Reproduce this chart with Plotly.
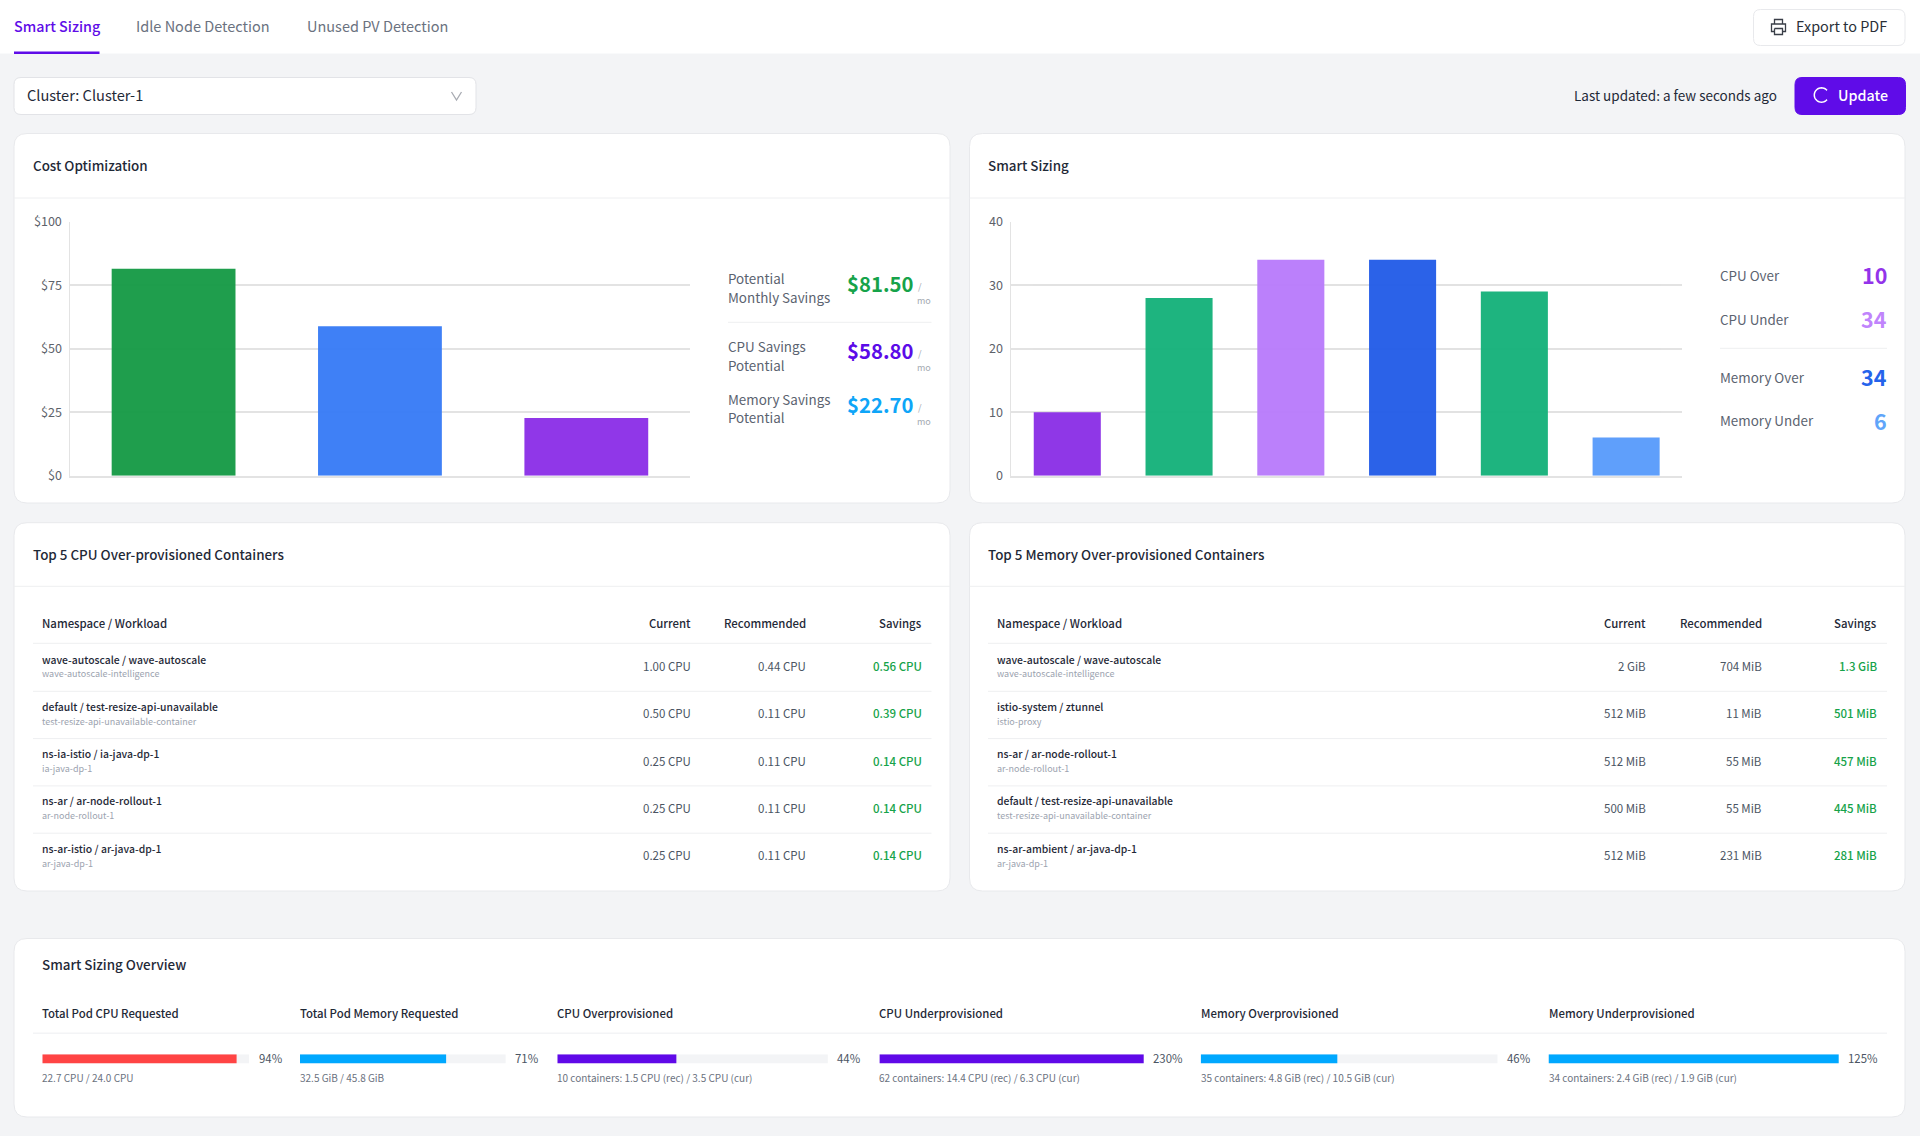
import numpy as np
import plotly.graph_objects as go

W, H = 1920, 1136
FONT = "Noto Sans CJK KR"

# chart data
cost_categories = ["Potential Monthly Savings", "CPU Savings Potential", "Memory Savings Potential"]
cost_values = [81.5, 58.8, 22.7]
cost_colors = ["#189b47", "#397cf6", "#8c31e7"]
cost_ticks = [0, 25, 50, 75, 100]
cost_tick_labels = ["$0", "$25", "$50", "$75", "$100"]

sizing_categories = ["CPU Over", "CPU Optimal", "CPU Under", "Memory Over", "Memory Optimal", "Memory Under"]
sizing_values = [10, 28, 34, 34, 29, 6]
sizing_colors = ["#8c31e7", "#17b27b", "#b97cfb", "#255de8", "#17b27b", "#5a9cfb"]
sizing_ticks = [0, 10, 20, 30, 40]
sizing_tick_labels = ["0", "10", "20", "30", "40"]

# side stats
cost_stat_lines = [["Potential", "Monthly Savings"], ["CPU Savings", "Potential"], ["Memory Savings", "Potential"]]
cost_stat_values = ["$81.50", "$58.80", "$22.70"]
cost_stat_colors = ["#16a34a", "#5b0be8", "#0ea5f8"]

sizing_stat_labels = ["CPU Over", "CPU Under", "Memory Over", "Memory Under"]
sizing_stat_values = [10, 34, 34, 6]
sizing_stat_colors = ["#9333ea", "#c084fc", "#2563eb", "#60a5fa"]

# tables
table_headers = ["Namespace / Workload", "Current", "Recommended", "Savings"]

cpu_workloads = ["wave-autoscale / wave-autoscale", "default / test-resize-api-unavailable",
                 "ns-ia-istio / ia-java-dp-1", "ns-ar / ar-node-rollout-1", "ns-ar-istio / ar-java-dp-1"]
cpu_containers = ["wave-autoscale-intelligence", "test-resize-api-unavailable-container",
                  "ia-java-dp-1", "ar-node-rollout-1", "ar-java-dp-1"]
cpu_current = ["1.00 CPU", "0.50 CPU", "0.25 CPU", "0.25 CPU", "0.25 CPU"]
cpu_recommended = ["0.44 CPU", "0.11 CPU", "0.11 CPU", "0.11 CPU", "0.11 CPU"]
cpu_savings = ["0.56 CPU", "0.39 CPU", "0.14 CPU", "0.14 CPU", "0.14 CPU"]

mem_workloads = ["wave-autoscale / wave-autoscale", "istio-system / ztunnel", "ns-ar / ar-node-rollout-1",
                 "default / test-resize-api-unavailable", "ns-ar-ambient / ar-java-dp-1"]
mem_containers = ["wave-autoscale-intelligence", "istio-proxy", "ar-node-rollout-1",
                  "test-resize-api-unavailable-container", "ar-java-dp-1"]
mem_current = ["2 GiB", "512 MiB", "512 MiB", "500 MiB", "512 MiB"]
mem_recommended = ["704 MiB", "11 MiB", "55 MiB", "55 MiB", "231 MiB"]
mem_savings = ["1.3 GiB", "501 MiB", "457 MiB", "445 MiB", "281 MiB"]

# overview bars
overview_titles = ["Total Pod CPU Requested", "Total Pod Memory Requested", "CPU Overprovisioned",
                   "CPU Underprovisioned", "Memory Overprovisioned", "Memory Underprovisioned"]
overview_pct = [94, 71, 44, 230, 46, 125]
overview_details = ["22.7 CPU / 24.0 CPU", "32.5 GiB / 45.8 GiB", "10 containers: 1.5 CPU (rec) / 3.5 CPU (cur)",
                    "62 containers: 14.4 CPU (rec) / 6.3 CPU (cur)", "35 containers: 4.8 GiB (rec) / 10.5 GiB (cur)",
                    "34 containers: 2.4 GiB (rec) / 1.9 GiB (cur)"]
overview_colors = ["#ff4444", "#00a8ff", "#6009e8", "#6009e8", "#00a8ff", "#00a8ff"]


def px(x):
    return x / W


def py(y):
    return 1 - y / H


annotations = []
shapes = []


def text(x, y, s, size=13, color="#1f2937", anchor="left", weight=400):
    # noto sits a little low in its line box
    annotations.append(dict(
        x=px(x), y=py(y - 1.2), xref="paper", yref="paper", text=s, showarrow=False,
        xanchor=anchor, yanchor="middle", borderpad=0, borderwidth=0,
        font=dict(family=FONT, size=size, color=color, weight=weight),
    ))


def hline(x0, x1, y, color="#eeeff1", width=1):
    shapes.append(dict(type="line", xref="paper", yref="paper", x0=px(x0), x1=px(x1), y0=py(y), y1=py(y),
                       line=dict(color=color, width=width), layer="below"))


def round_rect(x0, y0, x1, y1, r, fill, line="#e8e9ec", width=1):
    p = (f"M {px(x0 + r)} {py(y0)} L {px(x1 - r)} {py(y0)} Q {px(x1)} {py(y0)} {px(x1)} {py(y0 + r)} "
         f"L {px(x1)} {py(y1 - r)} Q {px(x1)} {py(y1)} {px(x1 - r)} {py(y1)} "
         f"L {px(x0 + r)} {py(y1)} Q {px(x0)} {py(y1)} {px(x0)} {py(y1 - r)} "
         f"L {px(x0)} {py(y0 + r)} Q {px(x0)} {py(y0)} {px(x0 + r)} {py(y0)} Z")
    shapes.append(dict(type="path", path=p, xref="paper", yref="paper", fillcolor=fill,
                       line=dict(color=line, width=width), layer="below"))


def polyline(points, color, width=1.3, above=True):
    p = "M " + " L ".join(f"{px(a)} {py(b)}" for a, b in points)
    shapes.append(dict(type="path", path=p, xref="paper", yref="paper",
                       line=dict(color=color, width=width), layer="above" if above else "below"))


# page chrome
shapes.append(dict(type="rect", xref="paper", yref="paper", x0=0, x1=1, y0=py(53.5), y1=1,
                   fillcolor="white", line=dict(width=0), layer="below"))
shapes.append(dict(type="rect", xref="paper", yref="paper", x0=px(14), x1=px(99.5), y0=py(54), y1=py(51.5),
                   fillcolor="#5f0ce8", line=dict(width=0), layer="below"))
text(14, 27, "Smart Sizing", 14.3, "#5f0ce8", weight=500)
text(136, 27, "Idle Node Detection", 14.5, "#6b7280")
text(307, 27, "Unused PV Detection", 14.5, "#6b7280")

round_rect(1753.5, 9.5, 1905, 45.5, 7, "white")
text(1795.5, 27, "Export to PDF", 14.4, "#2a2f38")
polyline([(1774.5, 24), (1774.5, 19.5), (1782.5, 19.5), (1782.5, 24)], "#3a3f48")
polyline([(1774.5, 31.5), (1771.5, 31.5), (1771.5, 24), (1785.5, 24), (1785.5, 31.5), (1782.5, 31.5)], "#3a3f48")
polyline([(1774.5, 28.5), (1782.5, 28.5), (1782.5, 34.5), (1774.5, 34.5), (1774.5, 28.5)], "#3a3f48")

round_rect(14, 77.5, 476, 114.5, 7, "white", "#e2e3e7")
text(27, 96, "Cluster: Cluster-1", 14.6, "#1f2937")
polyline([(451.5, 92), (456.5, 100), (461.5, 92)], "#a8abb2")

text(1776.5, 96, "Last updated: a few seconds ago", 13.5, "#1f2937", "right")
round_rect(1795, 77.5, 1905.5, 114.5, 7, "#5f0ce8", "#5f0ce8")
spin = np.radians(np.arange(40, 330, 10))
polyline([(1821.5 + 7.2 * np.cos(a), 95 - 7.2 * np.sin(a)) for a in spin], "white", 1.5)
text(1837.5, 96, "Update", 14.3, "white", weight=500)

# cards
for x0, x1 in [(14, 950), (969.5, 1905)]:
    round_rect(x0, 133.5, x1, 503, 13, "white")
    hline(x0, x1, 198)
    round_rect(x0, 522.7, x1, 891, 13, "white")
    hline(x0, x1, 586.3)
round_rect(14, 938.5, 1905, 1117, 13, "white")

text(33, 166, "Cost Optimization", 13.4, "#1f2937", weight=500)
text(988, 166, "Smart Sizing", 13.4, "#1f2937", weight=500)
text(33, 555, "Top 5 CPU Over-provisioned Containers", 13.4, "#1f2937", weight=500)
text(988, 555, "Top 5 Memory Over-provisioned Containers", 13.4, "#1f2937", weight=500)
text(42, 965, "Smart Sizing Overview", 13.4, "#1f2937", weight=500)

# cost side stats
label_ys = [(279, 298), (346.7, 365.7), (399.7, 418.7)]
value_ys = [284, 351, 404.7]
for lines, (y0, y1), val, vy, col in zip(cost_stat_lines, label_ys, cost_stat_values, value_ys, cost_stat_colors):
    text(728, y0, lines[0], 13.4, "#5b6370")
    text(728, y1, lines[1], 13.4, "#5b6370")
    text(847, vy, val, 20.3, col, weight=700)
    text(918, vy + 4, "/", 9, "#a4a9b2")
    text(917, vy + 18, "mo", 9, "#a4a9b2")
hline(728, 931.5, 322.3)

# smart sizing side stats
for lab, val, col, y in zip(sizing_stat_labels, sizing_stat_values, sizing_stat_colors, [276, 320, 378, 421.3]):
    text(1720, y, lab, 13.4, "#5b6370")
    text(1886.5, y, str(val), 21.5, col, "right", weight=700)
hline(1720, 1887, 348.3)


# tables
def draw_table(x_name, x_cur, x_rec, x_sav, x0, x1, workloads, containers, current, recommended, savings):
    text(x_name, 623.7, table_headers[0], 11.4, "#1f2937", weight=500)
    text(x_cur, 623.7, table_headers[1], 11.4, "#1f2937", "right", weight=500)
    text(x_rec, 623.7, table_headers[2], 11.4, "#1f2937", "right", weight=500)
    text(x_sav, 623.7, table_headers[3], 11.4, "#1f2937", "right", weight=500)
    hline(x0, x1, 643.3)
    for i in range(len(workloads)):
        dy = 47.3 * i
        text(x_name, 660.3 + dy, workloads[i], 10.4, "#1f2937", weight=500)
        text(x_name, 675 + dy, containers[i], 9, "#9ca3af")
        text(x_cur, 667.3 + dy, current[i], 11.5, "#4b5563", "right")
        text(x_rec, 667.3 + dy, recommended[i], 11.5, "#4b5563", "right")
        text(x_sav, 667.3 + dy, savings[i], 11.5, "#16a34a", "right", weight=500)
        if i < len(workloads) - 1:
            hline(x0, x1, 691.3 + dy)


draw_table(42.3, 690.7, 805.9, 921.6, 33, 931.5, cpu_workloads, cpu_containers, cpu_current, cpu_recommended, cpu_savings)
draw_table(997.4, 1645.8, 1761.6, 1877.3, 988, 1887, mem_workloads, mem_containers, mem_current, mem_recommended, mem_savings)

# figure and chart axes
fig = go.Figure()

fig.add_trace(go.Bar(x=cost_categories, y=cost_values, xaxis="x", yaxis="y",
                     marker=dict(color=cost_colors, line=dict(width=0)), opacity=0.97))
fig.add_trace(go.Bar(x=sizing_categories, y=sizing_values, xaxis="x2", yaxis="y2",
                     marker=dict(color=sizing_colors, line=dict(width=0)), opacity=0.97))

GRID = "#e3e3e3"
layout_axes = {}


def chart_axes(n, x0, x1, ymax, ticks, labels):
    s = "" if n == 1 else str(n)
    layout_axes["xaxis" + s] = dict(domain=[px(x0), px(x1)], anchor="y" + s, showticklabels=False, ticks="",
                                    automargin=False, showgrid=False, zeroline=False, showline=True,
                                    linecolor=GRID, linewidth=1.5)
    layout_axes["yaxis" + s] = dict(domain=[py(475.7), py(221.7)], anchor="x" + s, range=[0, ymax],
                                    tickvals=ticks, ticktext=labels, gridcolor=GRID, gridwidth=1.5,
                                    automargin=False, showline=True, linecolor=GRID, linewidth=1, zeroline=False,
                                    ticks="", ticklabelstandoff=5,
                                    tickfont=dict(family=FONT, size=12.6, color="#5d626a"))


chart_axes(1, 70.4, 689.5, 100, cost_ticks, cost_tick_labels)
chart_axes(2, 1011.4, 1682, 40, sizing_ticks, sizing_tick_labels)

# overview progress bars, one small axis pair each
overview_x0 = [42.3, 300, 557.3, 879.4, 1200.7, 1548.5]
overview_x1 = [249, 505.8, 827.9, 1143.7, 1497.7, 1838.7]
for i, title in enumerate(overview_titles):
    n = i + 3
    ax, ay = f"x{n}", f"y{n}"
    fig.add_trace(go.Bar(x=[100], y=[title], orientation="h", width=1, xaxis=ax, yaxis=ay,
                         marker=dict(color="#f3f4f6", line=dict(width=0))))
    fig.add_trace(go.Bar(x=[overview_pct[i]], y=[title], orientation="h", width=1, xaxis=ax, yaxis=ay,
                         marker=dict(color=overview_colors[i], line=dict(width=0))))
    layout_axes[f"xaxis{n}"] = dict(domain=[px(overview_x0[i]), px(overview_x1[i])], anchor=ay, range=[0, 100],
                                    automargin=False, visible=False)
    layout_axes[f"yaxis{n}"] = dict(domain=[py(1063.5), py(1054.3)], anchor=ax, range=[-0.5, 0.5],
                                    automargin=False, visible=False)
    text(overview_x0[i], 1013.7, title, 11.4, "#1f2937", weight=500)
    text(overview_x1[i] + 9.5, 1058.7, f"{overview_pct[i]}%", 11.4, "#4b5563")
    text(overview_x0[i], 1078.3, overview_details[i], 10, "#6b7280")
hline(33, 1887, 1033.3, "#f3f4f6", 1.5)

fig.update_layout(
    width=W, height=H, margin=dict(l=0, r=0, t=0, b=0, pad=0),
    paper_bgcolor="#f3f4f6", plot_bgcolor="rgba(0,0,0,0)",
    showlegend=False, barmode="overlay", bargap=0.4,
    font=dict(family=FONT),
    annotations=annotations, shapes=shapes,
    **layout_axes,
)

fig.write_html("out.html", config={"displayModeBar": False}, post_script="document.body.style.margin='0';")
